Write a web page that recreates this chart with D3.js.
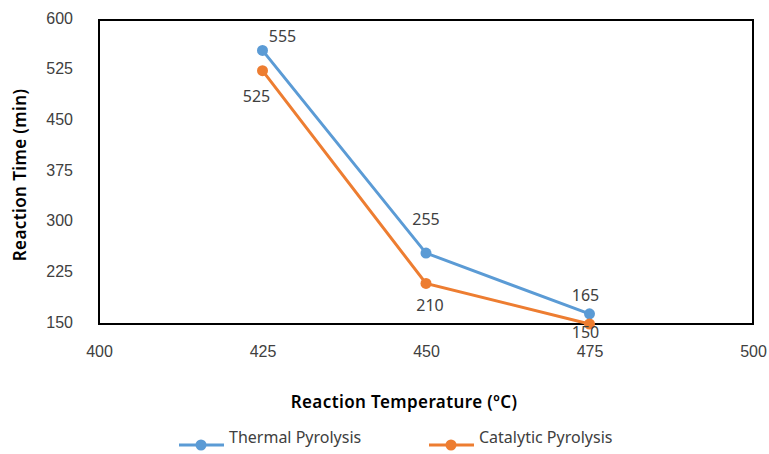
<!DOCTYPE html>
<html>
<head>
<meta charset="utf-8">
<script src="https://cdn.jsdelivr.net/npm/d3@7"></script>
<style>
  body{margin:0;background:#fff;}
  svg{display:block;font-family:"Noto Sans",sans-serif;}
</style>
</head>
<body>
<div id="chart"></div>
<script>
(function(){
'use strict';

// data
const temperatures=[425,450,475];
const thermal=[555,255,165];
const catalytic=[525,210,150];
const xTicks=[400,425,450,475,500];
const yTicks=[150,225,300,375,450,525,600];
const seriesNames=['Thermal Pyrolysis','Catalytic Pyrolysis'];
const colors=['#5B9BD5','#ED7D31'];

const W=769,H=454;
const m={top:20,right:16,bottom:130,left:99};
const iw=W-m.left-m.right, ih=H-m.top-m.bottom;

const svg=d3.select('#chart').append('svg').attr('width',W).attr('height',H);
const g=svg.append('g').attr('transform',`translate(${m.left},${m.top})`);

const x=d3.scaleLinear().domain([400,500]).range([0,iw]);
const y=d3.scaleLinear().domain([150,600]).range([ih,0]);

// axes (labels only, box drawn separately)
const xa=g.append('g').attr('transform',`translate(0,${ih})`)
  .call(d3.axisBottom(x).tickValues(xTicks).tickSize(0).tickPadding(22));
xa.select('.domain').remove();
xa.selectAll('text').attr('fill','#404040').style('font-size','16px');

const ya=g.append('g')
  .call(d3.axisLeft(y).tickValues(yTicks).tickSize(0).tickPadding(26));
ya.select('.domain').remove();
ya.selectAll('text').attr('fill','#404040').style('font-size','16px').attr('dy','0.2em');

// plot border
g.append('rect').attr('x',0).attr('y',0).attr('width',iw).attr('height',ih)
  .attr('fill','none').attr('stroke','#000').attr('stroke-width',2);

// series
const series=[thermal,catalytic];
const line=d3.line().x((d,i)=>x(temperatures[i])).y(d=>y(d));
series.forEach((vals,s)=>{
  g.append('path').datum(vals).attr('d',line)
    .attr('fill','none').attr('stroke',colors[s]).attr('stroke-width',3);
  g.selectAll('.dot'+s).data(vals).enter().append('circle')
    .attr('cx',(d,i)=>x(temperatures[i])).attr('cy',d=>y(d))
    .attr('r',5.5).attr('fill',colors[s]);
});

// data labels
const lblOff=[
  [[20,-14],[0,-34],[-4,-18]],
  [[-6,26],[4,22],[-4,8]]
];
series.forEach((vals,s)=>{
  g.selectAll('.lbl'+s).data(vals).enter().append('text')
    .attr('x',(d,i)=>x(temperatures[i])+lblOff[s][i][0])
    .attr('y',(d,i)=>y(d)+lblOff[s][i][1])
    .attr('dy','0.35em').attr('text-anchor','middle')
    .attr('fill','#404040').style('font-size','16px').text(d=>d);
});

// axis titles
svg.append('text').attr('x',404).attr('y',402).attr('dy','0.35em')
  .attr('text-anchor','middle').attr('fill','#000')
  .style('font-size','17px').style('font-weight','600').style('letter-spacing','0.4px')
  .text('Reaction Temperature (ºC)');
svg.append('text').attr('transform','translate(20,175) rotate(-90)')
  .attr('dy','0.35em').attr('text-anchor','middle').attr('fill','#000')
  .style('font-size','17px').style('font-weight','600').style('letter-spacing','0.4px')
  .text('Reaction Time (min)');

// legend
const lx=[179,429];
seriesNames.forEach((name,s)=>{
  const lg=svg.append('g').attr('transform',`translate(${lx[s]},445)`);
  lg.append('line').attr('x1',0).attr('x2',45).attr('stroke',colors[s]).attr('stroke-width',3);
  lg.append('circle').attr('cx',22).attr('r',5.5).attr('fill',colors[s]);
  lg.append('text').attr('x',50).attr('dy','-0.1em').attr('fill','#404040')
    .style('font-size','16px').text(name);
});

})();
</script>
</body>
</html>
